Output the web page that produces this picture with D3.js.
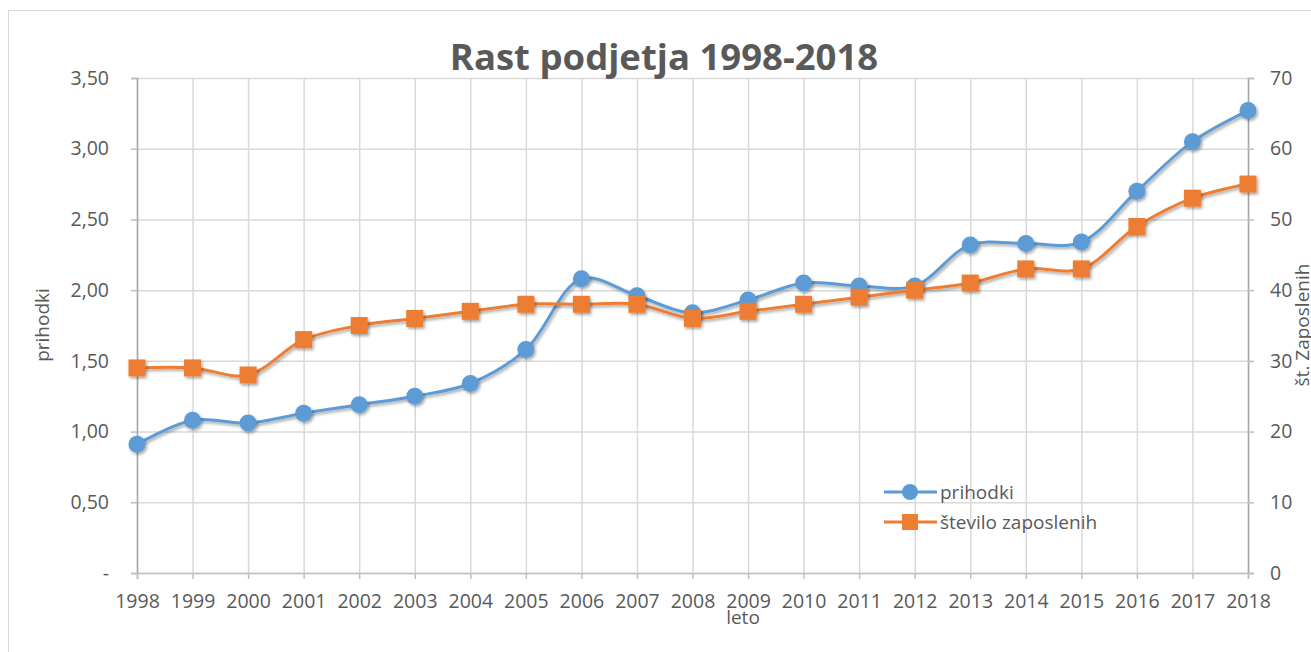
<!DOCTYPE html>
<html><head><meta charset="utf-8">
<script src="https://cdn.jsdelivr.net/npm/d3@7"></script>
<style>body{margin:0;background:#fff;}svg{display:block;font-family:"Open Sans","Noto Sans",sans-serif;}</style>
</head><body>
<svg id="c" width="1311" height="652"></svg>
<script>
const years = [1998,1999,2000,2001,2002,2003,2004,2005,2006,2007,2008,2009,2010,2011,2012,2013,2014,2015,2016,2017,2018];
const prihodki = [0.91,1.08,1.06,1.13,1.19,1.25,1.34,1.58,2.08,1.96,1.84,1.93,2.05,2.03,2.03,2.32,2.33,2.34,2.70,3.05,3.27];
const zaposleni = [29,29,28,33,35,36,37,38,38,38,36,37,38,39,40,41,43,43,49,53,55];
const leftTicks = [0,0.5,1,1.5,2,2.5,3,3.5];
const rightTicks = [0,10,20,30,40,50,60,70];
const title = "Rast podjetja 1998-2018";
const seriesNames = ["prihodki","število zaposlenih"];

const svg = d3.select("#c");
const blue = "#5B9BD5", orange = "#ED7D31", txt = "#595959", grid = "#d9d9d9";
const L = 137, R = 1248, T = 78, B = 573;

const defs = svg.append("defs");
const f = defs.append("filter").attr("id","sh").attr("x","-50%").attr("y","-50%").attr("width","200%").attr("height","200%");
f.append("feDropShadow").attr("dx",1.5).attr("dy",2).attr("stdDeviation",1.8).attr("flood-color","#000").attr("flood-opacity",0.35);

svg.append("rect").attr("x",8.5).attr("y",10.5).attr("width",1320).attr("height",660).attr("fill","#fff").attr("stroke","#d9d9d9");

const x = d3.scalePoint().domain(years).range([L,R]);
const yL = d3.scaleLinear().domain([0,3.5]).range([B,T]);
const yR = d3.scaleLinear().domain([0,70]).range([B,T]);

// gridlines
svg.append("g").selectAll("line").data(leftTicks).join("line")
  .attr("x1",L).attr("x2",R).attr("y1",d=>yL(d)+0.5).attr("y2",d=>yL(d)+0.5)
  .attr("stroke",grid).attr("stroke-width",1.5);
svg.append("g").selectAll("line").data(years).join("line")
  .attr("x1",d=>x(d)+0.5).attr("x2",d=>x(d)+0.5).attr("y1",T).attr("y2",B)
  .attr("stroke",grid).attr("stroke-width",1.5);

const fmt = d => d===0 ? "-" : d3.format(".2f")(d).replace(".",",");
const axL = svg.append("g").attr("transform",`translate(${L},0)`)
  .call(d3.axisLeft(yL).tickValues(leftTicks).tickFormat(fmt).tickSize(6).tickPadding(22));
const axR = svg.append("g").attr("transform",`translate(${R},0)`)
  .call(d3.axisRight(yR).tickValues(rightTicks).tickSize(6).tickPadding(16));
const axB = svg.append("g").attr("transform",`translate(0,${B})`)
  .call(d3.axisBottom(x).tickSize(6).tickPadding(15));
[axL,axR,axB].forEach(a=>{
  a.selectAll("path.domain").attr("stroke","#bfbfbf").attr("stroke-width",1.5);
  a.selectAll(".tick line").attr("stroke","#bfbfbf").attr("stroke-width",1.5);
  a.selectAll("text").attr("fill",txt).attr("font-size",19.5).attr("font-family",'"Open Sans",sans-serif');
});
axL.select("path.domain").attr("stroke","#a6a6a6");
axR.select("path.domain").attr("stroke","#a6a6a6");
axB.selectAll("text").attr("dy","0.71em");

// lines
const lineL = d3.line().x((d,i)=>x(years[i])).y(d=>yL(d)).curve(d3.curveCatmullRom.alpha(0.5));
const lineR = d3.line().x((d,i)=>x(years[i])).y(d=>yR(d)).curve(d3.curveCatmullRom.alpha(0.5));

svg.append("path").datum(prihodki).attr("d",lineL).attr("fill","none").attr("stroke",blue).attr("stroke-width",3).attr("filter","url(#sh)");
svg.append("g").selectAll("circle").data(prihodki).join("circle")
  .attr("cx",(d,i)=>x(years[i])).attr("cy",d=>yL(d)).attr("r",8.5).attr("fill",blue).attr("filter","url(#sh)");

svg.append("path").datum(zaposleni).attr("d",lineR).attr("fill","none").attr("stroke",orange).attr("stroke-width",3).attr("filter","url(#sh)");
svg.append("g").selectAll("rect").data(zaposleni).join("rect")
  .attr("x",(d,i)=>x(years[i])-8.5).attr("y",d=>yR(d)-8.5).attr("width",17).attr("height",17)
  .attr("fill",orange).attr("filter","url(#sh)");

// title & axis titles
svg.append("text").attr("x",664).attr("y",70).attr("text-anchor","middle").attr("font-size",36.5).attr("font-weight","bold")
  .attr("fill",txt).attr("font-family",'"Open Sans",sans-serif').text(title);
svg.append("text").attr("transform","translate(49,325) rotate(-90)").attr("text-anchor","middle").attr("font-size",19).attr("fill",txt).text("prihodki");
svg.append("text").attr("transform","translate(1309,325) rotate(-90)").attr("text-anchor","middle").attr("font-size",19).attr("fill",txt).text("št. Zaposlenih");
svg.append("text").attr("x",743).attr("y",624).attr("text-anchor","middle").attr("font-size",19).attr("fill",txt).text("leto");

// legend
const lg = svg.append("g").attr("transform","translate(884,492)");
[[blue,"c"],[orange,"s"]].forEach((s,i)=>{
  const g = lg.append("g").attr("transform",`translate(0,${i*30})`);
  g.append("line").attr("x1",0).attr("x2",53).attr("y1",0).attr("y2",0).attr("stroke",s[0]).attr("stroke-width",3);
  if(s[1]==="c") g.append("circle").attr("cx",26).attr("cy",0).attr("r",8).attr("fill",s[0]);
  else g.append("rect").attr("x",18).attr("y",-8).attr("width",16).attr("height",16).attr("fill",s[0]);
  g.append("text").attr("x",56).attr("y",0).attr("dy","0.35em").attr("font-size",19).attr("fill",txt).text(seriesNames[i]);
});
</script>
</body></html>
